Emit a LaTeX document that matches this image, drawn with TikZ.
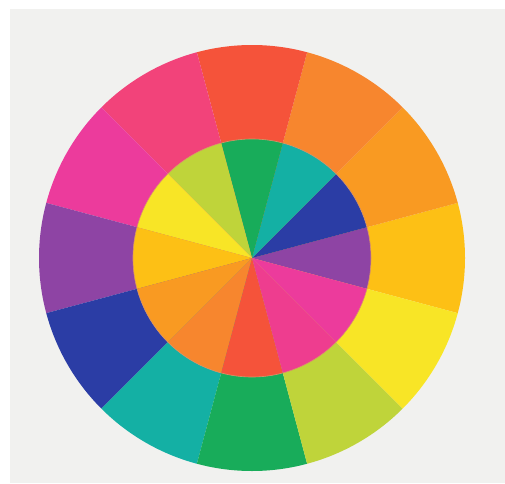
\documentclass[tikz,border=0pt]{standalone}
\definecolor{cred}{HTML}{F5533A}
\definecolor{corangered}{HTML}{F7862E}
\definecolor{corange}{HTML}{F99A22}
\definecolor{cyelloworange}{HTML}{FDC015}
\definecolor{cyellow}{HTML}{F8E526}
\definecolor{cyellowgreen}{HTML}{BFD43A}
\definecolor{cgreen}{HTML}{18AC5A}
\definecolor{cteal}{HTML}{14B0A4}
\definecolor{cblue}{HTML}{2B3DA5}
\definecolor{cpurple}{HTML}{8E44A4}
\definecolor{cmagenta}{HTML}{EC3B9C}
\definecolor{cpink}{HTML}{F2437A}
\definecolor{cinpink}{HTML}{EE3D8F}
\definecolor{cbg}{HTML}{F1F1EF}
\definecolor{crim}{HTML}{D9956A}
\begin{document}
\begin{tikzpicture}[x=1pt,y=1pt]
\useasboundingbox (0,0) rectangle (505,483);
\fill[white] (0,0) rectangle (505,483);
\fill[cbg] (10,0) rectangle (505,474);
\coordinate (O) at (252,225);
% outer ring
\foreach \a/\c in {0/cyelloworange,30/corange,60/corangered,90/cred,120/cpink,150/cmagenta,180/cpurple,210/cblue,240/cteal,270/cgreen,300/cyellowgreen,330/cyellow}{
  \fill[\c] (O) -- ++(\a-15:213pt) arc[start angle=\a-15, end angle=\a+15, radius=213pt] -- cycle;
}
% inner disc
\foreach \a/\c in {0/cpurple,30/cblue,60/cteal,90/cgreen,120/cyellowgreen,150/cyellow,180/cyelloworange,210/corange,240/corangered,270/cred,300/cinpink,330/cmagenta}{
  \fill[\c] (O) -- ++(\a-15:119pt) arc[start angle=\a-15, end angle=\a+15, radius=119pt] -- cycle;
}
\draw[crim, line width=0.6pt] (O) circle[radius=119pt];
\end{tikzpicture}
\end{document}
